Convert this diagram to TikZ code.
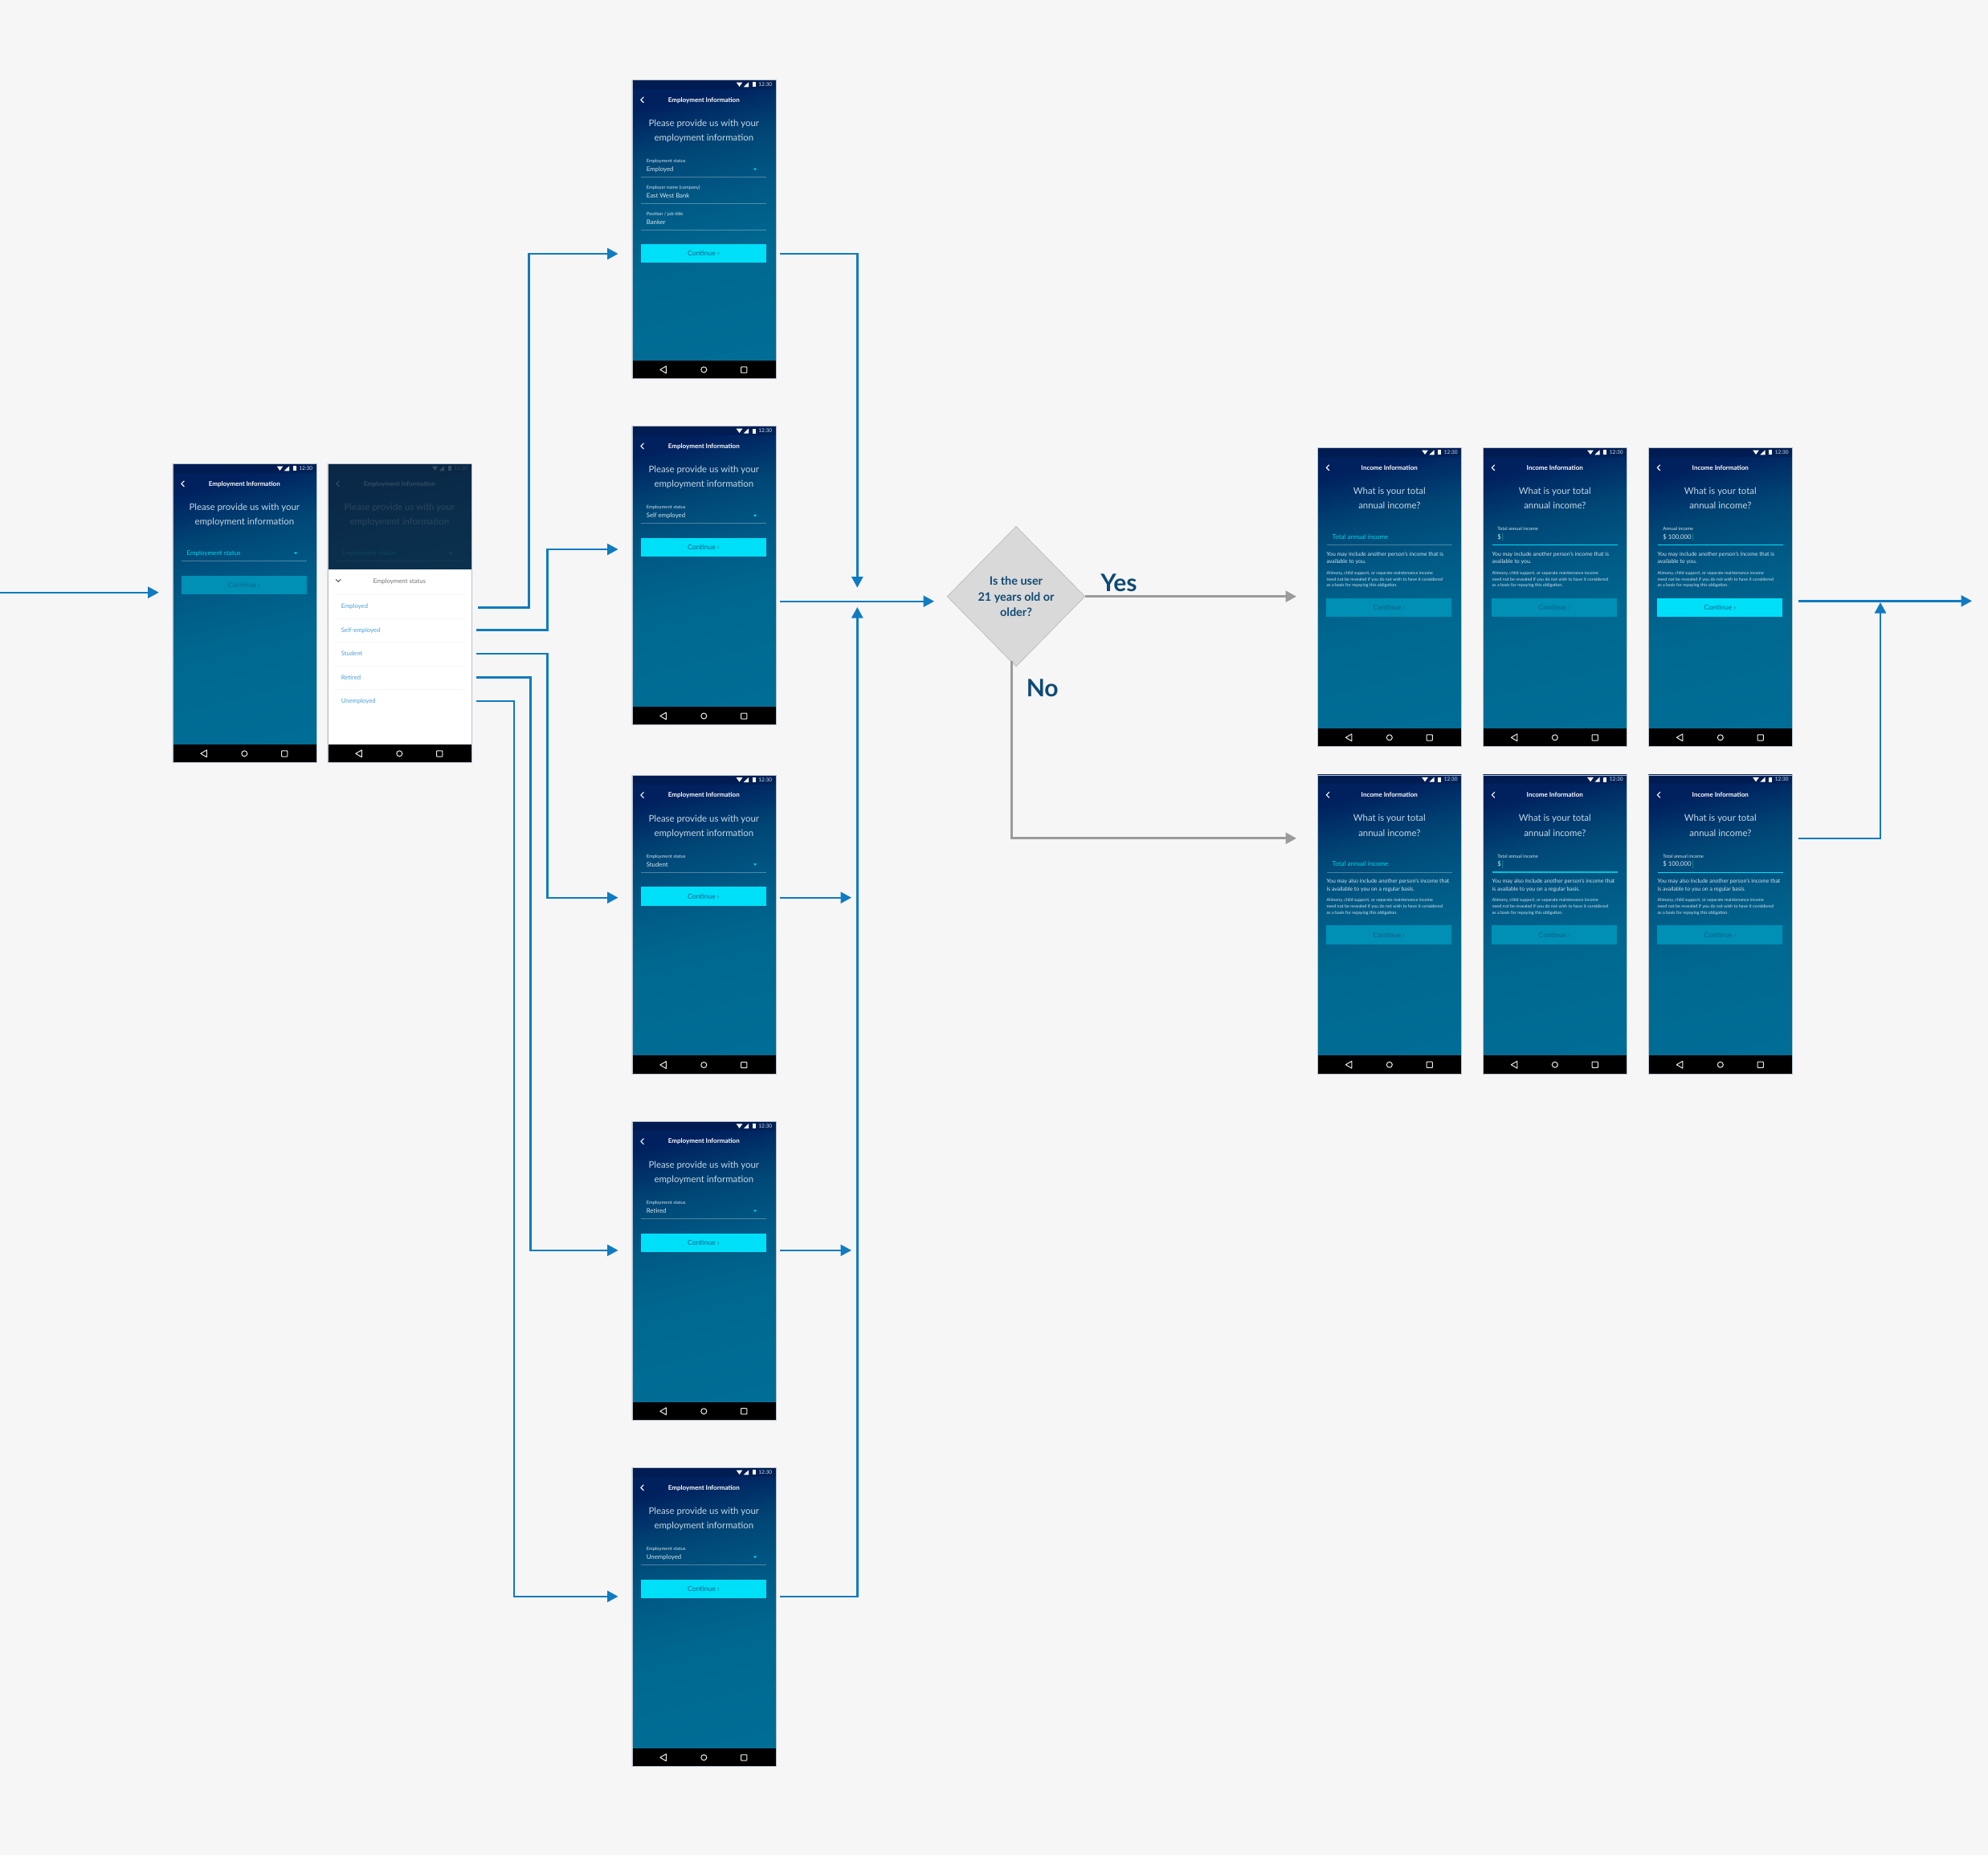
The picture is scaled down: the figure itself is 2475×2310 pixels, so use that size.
\documentclass[tikz,border=0pt]{standalone}
\usepackage{fontspec}
\setmainfont{Lato}
\usetikzlibrary{arrows.meta,calc,shapes.geometric}
\definecolor{pagebg}{HTML}{F6F6F6}
\definecolor{flowblue}{HTML}{0F7BC0}
\definecolor{flowgray}{HTML}{9B9B9B}
\definecolor{navytext}{HTML}{0F4A75}
\definecolor{cyanon}{HTML}{00DFF8}
\definecolor{cyanoff}{HTML}{008FB5}
\definecolor{cyantext}{HTML}{00D4E8}
\definecolor{softwhite}{HTML}{D5E3EE}
\definecolor{headwhite}{HTML}{C6D8E6}
\definecolor{btntext}{HTML}{0A5F85}
\definecolor{itemblue}{HTML}{4A9FD8}
\definecolor{edgegray}{HTML}{B8C4CE}
\definecolor{dimmer}{RGB}{12,42,68}
\pgfdeclareverticalshading{phonegrad}{100bp}{%
 rgb(0bp)=(0,0.427,0.588);
 rgb(25bp)=(0,0.427,0.588);
 rgb(45bp)=(0,0.408,0.565);
 rgb(55bp)=(0,0.353,0.525);
 rgb(65bp)=(0,0.275,0.46);
 rgb(75bp)=(0,0.125,0.37);
 rgb(100bp)=(0,0.125,0.37)}
\tikzset{
 flow/.style={draw=flowblue,line width=2.4pt,-{Triangle[length=13.5pt,width=14pt]}},
 grayflow/.style={draw=flowgray,line width=2.8pt,-{Triangle[length=13.5pt,width=14pt]}},
 phonebox/.style={draw=edgegray,line width=0.4pt,minimum width=179pt,minimum height=372pt,inner sep=0pt,outer sep=0pt},
 base/.style={inner sep=0pt,outer sep=0pt},
 ptitle/.style={base,anchor=base,text=white,font=\fontsize{8}{8}\selectfont\bfseries},
 phead/.style={base,anchor=base,text=headwhite,font=\fontsize{11.4}{14}\selectfont},
 plabel/.style={base,anchor=base west,text=softwhite,font=\fontsize{5.8}{6}\selectfont},
 pvalue/.style={base,anchor=base west,text=softwhite,font=\fontsize{7.8}{8}\selectfont},
 pcyan/.style={base,anchor=base west,text=cyantext,font=\fontsize{8}{8}\selectfont},
 pbody/.style={base,anchor=base west,text=softwhite,font=\fontsize{6.9}{7}\selectfont},
 pfine/.style={base,anchor=base west,text=softwhite,font=\fontsize{5.4}{6}\selectfont},
 ptime/.style={base,anchor=base,text=softwhite,font=\fontsize{6.5}{7}\selectfont},
 btnbox/.style={base,anchor=north west,minimum width=156pt,minimum height=23.4pt,text=btntext,font=\fontsize{8.6}{9}\selectfont},
 btnon/.style={btnbox,fill=cyanon},
 btnoff/.style={btnbox,fill=cyanoff},
 fieldline/.style={draw=white,draw opacity=.3,line width=0.8pt},
 activeline/.style={draw=cyanon,line width=1pt},
 menuitem/.style={base,anchor=base west,text=itemblue,font=\fontsize{7.7}{8}\selectfont},
 menurule/.style={draw=black!4,line width=0.6pt},
 decision/.style={diamond,shape aspect=1,draw=black!25,line width=0.8pt,fill=black!15,inner sep=0pt,minimum width=171.7pt,minimum height=174.7pt,align=center,text=navytext,font=\fontsize{14.4}{19.8}\selectfont\bfseries},
 branch/.style={base,text=navytext,font=\fontsize{30}{30}\selectfont\bfseries},
}
\newcommand\Phone[4]{%
 \begin{scope}[shift={(#2,#3)}]\def\pname{#1}%
  \shade[shading=phonegrad,shading angle=14] (0,0) rectangle (179,372);
  \fill[black,opacity=.12] (0,0) rectangle (179,11.7);
  \fill[white] (129.8,3.2) -- (137.6,3.2) -- (133.7,8.6) -- cycle;
  \fill[white] (139,9) -- (145.2,9) -- (145.2,3) -- cycle;
  \fill[white] (149.8,3) rectangle (153.8,9);
  \node[ptime] (\pname-time) at (166,8.2) {12:30};
  \draw[white,line width=1.1pt,line cap=round,line join=round] (14.4,21.6) -- (11,25) -- (14.4,28.4);
  #4
  \fill[black] (0,349.3) rectangle (179,372);
  \draw[white!92!black,line width=1pt,line join=round] (35,361) -- (42.5,356.6) -- (42.5,365.4) -- cycle;
  \draw[white!92!black,line width=1pt] (89.5,361) circle (3.5);
  \draw[white!92!black,line width=1pt,rounded corners=.6pt] (135.8,357.5) rectangle (143,364.7);
 \end{scope}
 \node[phonebox,anchor=north west] (#1) at (#2,#3) {};
}
\newcommand\EmpHead{%
 \node[ptitle] (\pname-title) at (89.5,27.7) {Employment Information};
 \node[phead] (\pname-h1) at (89.5,58) {Please provide us with your};
 \node[phead] (\pname-h2) at (89.5,76.3) {employment information};
}
\newcommand\IncHead{%
 \node[ptitle] (\pname-title) at (89.5,27.7) {Income Information};
 \node[phead] (\pname-h1) at (89.5,58) {What is your total};
 \node[phead] (\pname-h2) at (89.5,76.3) {annual income?};
}
\newcommand\Arrowdown{\fill[cyanon] (151.2,110.3) -- (155.4,110.3) -- (153.3,112.8) -- cycle;}
\newcommand\StatusField[1]{%
 \node[plabel] (\pname-l1) at (18,103.4) {Employment status};
 \node[pvalue] (\pname-v1) at (18,114.2) {#1};
 \Arrowdown
 \draw[fieldline] (11,121) -- (167,121);
}
\newcommand\BtnAt[2]{\node[#2] (\pname-btn) at (11,#1) {Continue ›};}
\newcommand\IncBody[2]{%
 \node[pbody] (\pname-b1) at (11.3,134.7) {#1};
 \node[pbody] (\pname-b2) at (11.3,144.5) {#2};
 \node[pfine] (\pname-f1) at (11.3,158.1) {Alimony, child support, or separate maintenance income};
 \node[pfine] (\pname-f2) at (11.3,165.8) {need not be revealed if you do not wish to have it considered};
 \node[pfine] (\pname-f3) at (11.3,173.5) {as a basis for repaying this obligation.};
}
\newcommand\BodyA{\IncBody{You may include another person's income that is}{available to you.}}
\newcommand\BodyB{\IncBody{You may also include another person's income that}{is available to you on a regular basis.}}
\newcommand\IncEmpty{%
 \node[pcyan] (\pname-prompt) at (18.3,114.1) {Total annual income};
 \draw[fieldline] (11.3,121.3) -- (167.3,121.3);
}
\newcommand\IncFilled[3]{%
 \node[plabel] (\pname-l1) at (18,103.4) {#1};
 \node[pvalue] (\pname-v1) at (18,114.2) {#2};
 \fill[cyantext!60!black] (#3,106.5) rectangle (#3+.8,116);
 \draw[activeline] (11.3,121.3) -- (167.3,121.3);
}
\begin{document}
\begin{tikzpicture}[x=1pt,y=-1pt]
\useasboundingbox (0,0) rectangle (2475,2310);
\fill[pagebg] (0,0) rectangle (2475,2310);

% entry screens
\Phone{start}{214.8}{577.3}{\EmpHead
 \node[pcyan] (\pname-prompt) at (17.7,114.3) {Employment status};
 \Arrowdown
 \draw[fieldline] (11,121.3) -- (167,121.3);
 \BtnAt{139.3}{btnoff}}
\Phone{menu}{407.8}{577.3}{\EmpHead
 \node[pcyan] (\pname-prompt) at (17.7,114.3) {Employment status};
 \Arrowdown
 \draw[fieldline] (11,121.3) -- (167,121.3);
 \fill[dimmer,opacity=.84] (0,0) rectangle (179,131.7);
 \fill[white] (0,131.7) rectangle (179,349.3);
 \node[base,anchor=base,text=black!55,font=\fontsize{7.8}{8}\selectfont] (\pname-hdr) at (89.5,148.8) {Employment status};
 \draw[black!70,line width=1pt,line cap=round] (10.4,144.2) -- (13.3,147) -- (16.2,144.2);
 \draw[menurule] (10,163.3) -- (169,163.3);
 \draw[menurule] (10,192.7) -- (169,192.7);
 \draw[menurule] (10,222.3) -- (169,222.3);
 \draw[menurule] (10,251.7) -- (169,251.7);
 \draw[menurule] (10,281) -- (169,281);
 \node[menuitem] (\pname-i1) at (17,180.4) {Employed};
 \node[menuitem] (\pname-i2) at (17,209.8) {Self-employed};
 \node[menuitem] (\pname-i3) at (17,239.5) {Student};
 \node[menuitem] (\pname-i4) at (17,268.8) {Retired};
 \node[menuitem] (\pname-i5) at (17,298) {Unemployed};
}

% employment screens
\Phone{emp}{786.8}{99.3}{\EmpHead
 \StatusField{Employed}
 \node[plabel] (\pname-l2) at (18,136.5) {Employer name (company)};
 \node[pvalue] (\pname-v2) at (18,147.2) {East West Bank};
 \draw[fieldline] (11,154) -- (167,154);
 \node[plabel] (\pname-l3) at (18,169.5) {Position / job title};
 \node[pvalue] (\pname-v3) at (18,180.2) {Banker};
 \draw[fieldline] (11,187) -- (167,187);
 \BtnAt{204.7}{btnon}}
\Phone{self}{786.8}{530.5}{\EmpHead\StatusField{Self employed}\BtnAt{139.3}{btnon}}
\Phone{stud}{786.8}{965}{\EmpHead\StatusField{Student}\BtnAt{139.3}{btnon}}
\Phone{reti}{786.8}{1396.2}{\EmpHead\StatusField{Retired}\BtnAt{139.3}{btnon}}
\Phone{unem}{786.8}{1827.3}{\EmpHead\StatusField{Unemployed}\BtnAt{139.3}{btnon}}

% income screens
\Phone{inca}{1640.3}{557.3}{\IncHead\IncEmpty\BodyA\BtnAt{187.3}{btnoff}}
\Phone{incb}{1846.3}{557.3}{\IncHead\IncFilled{Total annual income}{\$}{23.4}\BodyA\BtnAt{187.3}{btnoff}}
\Phone{incc}{2052.3}{557.3}{\IncHead\IncFilled{Annual income}{\$ 100,000}{54.5}\BodyA\BtnAt{187.3}{btnon}}
\Phone{incd}{1640.3}{964.7}{\IncHead\IncEmpty\BodyB\BtnAt{187.7}{btnoff}}
\Phone{ince}{1846.3}{964.7}{\tikzset{activeline/.style={draw=cyantext!92!black,line width=1.6pt}}\IncHead\IncFilled{Total annual income}{\$}{23.4}\BodyB\BtnAt{187.7}{btnoff}}
\Phone{incf}{2052.3}{964.7}{\IncHead\IncFilled{Total annual income}{\$ 100,000}{54.5}\BodyB\BtnAt{187.7}{btnoff}}

% decision
\node[decision] (dec) at (1265,742.7) {Is the user\\21 years old or\\older?};
\node[branch,anchor=base] (yes) at (1393,736.2) {Yes};
\node[branch,anchor=base] (no) at (1297.7,867.2) {No};

% connector ends
\coordinate (in0) at (0,737.7);
\coordinate (in1) at (197.7,737.7);
\coordinate (m1) at (595,756.3);
\coordinate (m2) at (593,784.3);
\coordinate (m3) at (593,814);
\coordinate (m4) at (593,843.3);
\coordinate (m5) at (593,872.7);
\coordinate (t1) at (769.5,316);
\coordinate (t2) at (769.5,684);
\coordinate (t3) at (769.5,1117.7);
\coordinate (t4) at (769.5,1556.8);
\coordinate (t5) at (769.5,1987.8);
\coordinate (k1) at (658.3,316);
\coordinate (k2) at (681.3,684);
\coordinate (k3) at (681.3,1117.7);
\coordinate (k4) at (660.3,1556.8);
\coordinate (k5) at (640,1987.8);
\coordinate (o1) at (970.7,316);
\coordinate (o2) at (970.7,748.7);
\coordinate (o3) at (970.7,1117.7);
\coordinate (o4) at (970.7,1556.8);
\coordinate (o5) at (970.7,1987.8);
\coordinate (j1) at (1067.3,731.7);
\coordinate (j5) at (1067.3,756);
\coordinate (o2t) at (1163,748.7);
\coordinate (o3t) at (1060,1117.7);
\coordinate (o4t) at (1060,1556.8);
\coordinate (yt) at (1614,742.7);
\coordinate (ns) at (1259.7,823);
\coordinate (nt) at (1614,1043.8);
\coordinate (r1) at (2239,748.3);
\coordinate (r1t) at (2455,748.3);
\coordinate (r2) at (2239,1043.8);
\coordinate (r2t) at (2341,750);

% connectors
\draw[flow] (in0) -- (in1);
\draw[flow] (m1) -| (k1) -- (t1);
\draw[flow] (m2) -| (k2) -- (t2);
\draw[flow] (m3) -| (k3) -- (t3);
\draw[flow] (m4) -| (k4) -- (t4);
\draw[flow] (m5) -| (k5) -- (t5);
\draw[flow] (o1) -| (j1);
\draw[flow] (o2) -- (o2t);
\draw[flow] (o3) -- (o3t);
\draw[flow] (o4) -- (o4t);
\draw[flow] (o5) -| (j5);
\draw[grayflow] (dec.east) -- (yt);
\draw[grayflow] (ns) |- (nt);
\draw[flow] (r1) -- (r1t);
\draw[flow] (r2) -| (r2t);
\end{tikzpicture}
\end{document}
